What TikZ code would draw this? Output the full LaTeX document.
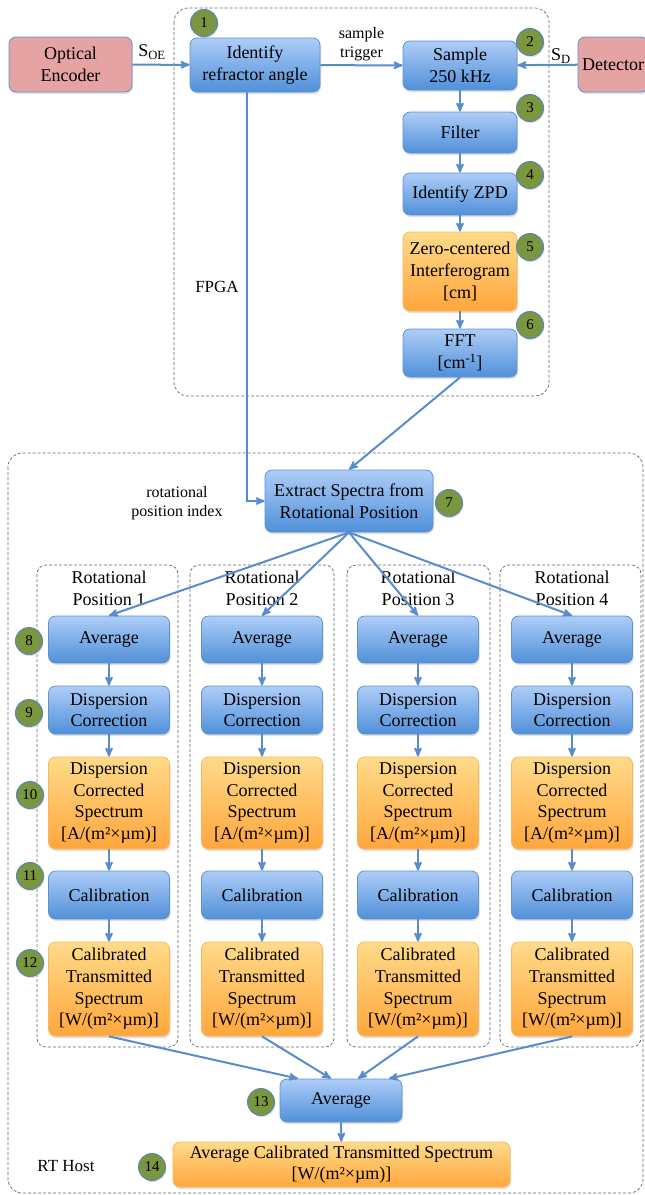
\documentclass[tikz,border=0pt]{standalone}
\usepackage{fontspec}
\setmainfont{Liberation Serif}
\usepackage{tikz}
\usetikzlibrary{arrows,shadows}
\usetikzlibrary{positioning}

\definecolor{bluetop}{RGB}{174,205,247}
\definecolor{bluebot}{RGB}{80,144,217}
\definecolor{blueline}{RGB}{96,146,208}
\definecolor{orangetop}{RGB}{255,219,138}
\definecolor{orangebot}{RGB}{255,166,60}
\definecolor{orangeline}{RGB}{246,184,92}
\definecolor{pinkfill}{RGB}{229,163,163}
\definecolor{stepfill}{RGB}{122,150,62}
\definecolor{stepline}{RGB}{92,132,186}
\definecolor{flowblue}{RGB}{88,140,205}

\begin{document}
\begin{tikzpicture}[x=1pt,y=-1pt,>=stealth',flow/.style={->,draw=flowblue,line width=2pt}]
	\useasboundingbox (0,0) rectangle (645,1195);
	\tikzset{every node/.style={align=center,inner sep=0pt,font=\rmfamily\fontsize{18}{21.6}\selectfont}}
	\tikzset{box/.style={rectangle,rounded corners=7pt,line width=0.8pt,drop shadow={opacity=0.25,shadow xshift=1pt,shadow yshift=-2pt}}}
	\tikzset{procbox/.style={box,draw=blueline,top color=bluetop,bottom color=bluebot}}
	\tikzset{databox/.style={box,draw=orangeline,top color=orangetop,bottom color=orangebot}}
	\tikzset{srcbox/.style={box,draw=blueline,fill=pinkfill}}
	\tikzset{colbox/.style={minimum width=121pt,minimum height=47pt}}
	\tikzset{stepnum/.style={circle,draw=stepline,line width=1pt,fill=stepfill,minimum size=27pt,font=\rmfamily\fontsize{15}{15}\selectfont,drop shadow={opacity=0.25,shadow xshift=1pt,shadow yshift=-1.5pt}}}
	\tikzset{zone/.style={draw=black!60,dash pattern=on 3pt off 2pt,line width=0.7pt,rounded corners=14pt}}
	\tikzset{note/.style={font=\rmfamily\fontsize{16}{19}\selectfont}}
	\tikzset{zonename/.style={font=\rmfamily\fontsize{17}{20}\selectfont}}

	% dashed regions
	\draw[zone] (174,8) rectangle (549,396);
	\draw[zone] (8,453) rectangle (643,1193);
	\draw[zone,rounded corners=9pt] (37,565) rectangle (178,1047);
	\draw[zone,rounded corners=9pt] (190,565) rectangle (334,1047);
	\draw[zone,rounded corners=9pt] (347,565) rectangle (490,1047);
	\draw[zone,rounded corners=9pt] (500,565) rectangle (641,1047);

	% FPGA part
	\node[srcbox,minimum width=123pt,minimum height=55pt] (oe) at (70.5,64.5) {Optical\\Encoder};
	\node[srcbox,minimum width=70pt,minimum height=55pt] (det) at (613,64.5) {Detector};
	\node[procbox,minimum width=130pt,minimum height=54pt] (ira) at (255,65) {Identify\\refractor angle};
	\node[procbox,minimum width=114pt,minimum height=49pt] (samp) at (460,65.5) {Sample\\250 kHz};
	\node[procbox,minimum width=114pt,minimum height=41pt] (filt) at (460,132.5) {Filter};
	\node[procbox,minimum width=114pt,minimum height=42pt] (zpd) at (460,194) {Identify ZPD};
	\node[databox,minimum width=114pt,minimum height=79pt] (zero) at (460,271.5) {Zero-centered\\Interferogram\\{[cm]}};
	\node[procbox,minimum width=114pt,minimum height=48pt] (fft) at (460,353) {FFT\\{[cm\textsuperscript{-1}]}};
	\node (soe) at (152,52) {S\textsubscript{OE}};
	\node (sd) at (561,56) {S\textsubscript{D}};
	\node[zonename] (fpga) at (217,287) {FPGA};

	% RT host part
	\node[procbox,minimum width=168pt,minimum height=62pt] (ext) at (349,501) {Extract Spectra from\\Rotational Position};
	\node[note] (rpi) at (177,503) {rotational\\position index};
	\node[zonename] (rth) at (66,1166) {RT Host};

	\node (t1) at (109,588.5) {Rotational\\Position 1};
	\node (t2) at (262,588.5) {Rotational\\Position 2};
	\node (t3) at (418,588.5) {Rotational\\Position 3};
	\node (t4) at (572,588.5) {Rotational\\Position 4};

	\node[procbox,colbox] (avg1) at (109,639.5) {Average};
	\node[procbox,colbox] (avg2) at (262,639.5) {Average};
	\node[procbox,colbox] (avg3) at (418,639.5) {Average};
	\node[procbox,colbox] (avg4) at (572,639.5) {Average};

	\node[procbox,colbox,minimum height=48pt] (disp1) at (109,710) {Dispersion\\Correction};
	\node[procbox,colbox,minimum height=48pt] (disp2) at (262,710) {Dispersion\\Correction};
	\node[procbox,colbox,minimum height=48pt] (disp3) at (418,710) {Dispersion\\Correction};
	\node[procbox,colbox,minimum height=48pt] (disp4) at (572,710) {Dispersion\\Correction};

	\node[databox,colbox,minimum height=92pt] (dcs1) at (109,803) {Dispersion\\Corrected\\Spectrum\\{[A/(m²×µm)]}};
	\node[databox,colbox,minimum height=92pt] (dcs2) at (262,803) {Dispersion\\Corrected\\Spectrum\\{[A/(m²×µm)]}};
	\node[databox,colbox,minimum height=92pt] (dcs3) at (418,803) {Dispersion\\Corrected\\Spectrum\\{[A/(m²×µm)]}};
	\node[databox,colbox,minimum height=92pt] (dcs4) at (572,803) {Dispersion\\Corrected\\Spectrum\\{[A/(m²×µm)]}};

	\node[procbox,colbox,minimum height=48pt] (cal1) at (109,895) {Calibration};
	\node[procbox,colbox,minimum height=48pt] (cal2) at (262,895) {Calibration};
	\node[procbox,colbox,minimum height=48pt] (cal3) at (418,895) {Calibration};
	\node[procbox,colbox,minimum height=48pt] (cal4) at (572,895) {Calibration};

	\node[databox,colbox,minimum height=94pt] (cts1) at (109,989) {Calibrated\\Transmitted\\Spectrum\\{[W/(m²×µm)]}};
	\node[databox,colbox,minimum height=94pt] (cts2) at (262,989) {Calibrated\\Transmitted\\Spectrum\\{[W/(m²×µm)]}};
	\node[databox,colbox,minimum height=94pt] (cts3) at (418,989) {Calibrated\\Transmitted\\Spectrum\\{[W/(m²×µm)]}};
	\node[databox,colbox,minimum height=94pt] (cts4) at (572,989) {Calibrated\\Transmitted\\Spectrum\\{[W/(m²×µm)]}};

	\node[procbox,minimum width=122pt,minimum height=43pt] (avgall) at (341,1100.5) {Average};
	\node[databox,minimum width=337pt,minimum height=45pt] (result) at (341.5,1164.5) {Average Calibrated Transmitted Spectrum\\{[W/(m²×µm)]}};

	% step numbers
	\node[stepnum] (n1) at (204,23) {1};
	\node[stepnum] (n2) at (530,42) {2};
	\node[stepnum] (n3) at (530,108) {3};
	\node[stepnum] (n4) at (530,175) {4};
	\node[stepnum] (n5) at (530,247) {5};
	\node[stepnum] (n6) at (530,325) {6};
	\node[stepnum] (n7) at (449,503) {7};
	\node[stepnum] (n8) at (29,641) {8};
	\node[stepnum] (n9) at (29,713) {9};
	\node[stepnum] (n10) at (30,795) {10};
	\node[stepnum] (n11) at (30,876) {11};
	\node[stepnum] (n12) at (30,963) {12};
	\node[stepnum] (n13) at (261,1102) {13};
	\node[stepnum] (n14) at (152,1167) {14};

	\path
	(oe)    edge[flow] (ira)
	(ira)   edge[flow] node[above=3pt,note] {sample\\trigger} (samp)
	(det)   edge[flow] (samp)
	(samp)  edge[flow] (filt)
	(filt)  edge[flow] (zpd)
	(zpd)   edge[flow] (zero)
	(zero)  edge[flow] (fft)
	(fft.south) edge[flow] (ext.north)
	(ext.south) edge[flow] (avg1.north)
	(ext.south) edge[flow] (avg2.north)
	(ext.south) edge[flow] (avg3.north)
	(ext.south) edge[flow] (avg4.north)
	(avg1) edge[flow] (disp1) (disp1) edge[flow] (dcs1) (dcs1) edge[flow] (cal1) (cal1) edge[flow] (cts1)
	(avg2) edge[flow] (disp2) (disp2) edge[flow] (dcs2) (dcs2) edge[flow] (cal2) (cal2) edge[flow] (cts2)
	(avg3) edge[flow] (disp3) (disp3) edge[flow] (dcs3) (dcs3) edge[flow] (cal3) (cal3) edge[flow] (cts3)
	(avg4) edge[flow] (disp4) (disp4) edge[flow] (dcs4) (dcs4) edge[flow] (cal4) (cal4) edge[flow] (cts4)
	(cts1.south) edge[flow] ([xshift=-43pt]avgall.north)
	(cts2.south) edge[flow] ([xshift=-10pt]avgall.north)
	(cts3.south) edge[flow] ([xshift=17pt]avgall.north)
	(cts4.south) edge[flow] ([xshift=48pt]avgall.north)
	(avgall) edge[flow] (result);
	\draw[flow] (ira.south) ++(-8,0) |- (ext.west);
\end{tikzpicture}
\end{document}
